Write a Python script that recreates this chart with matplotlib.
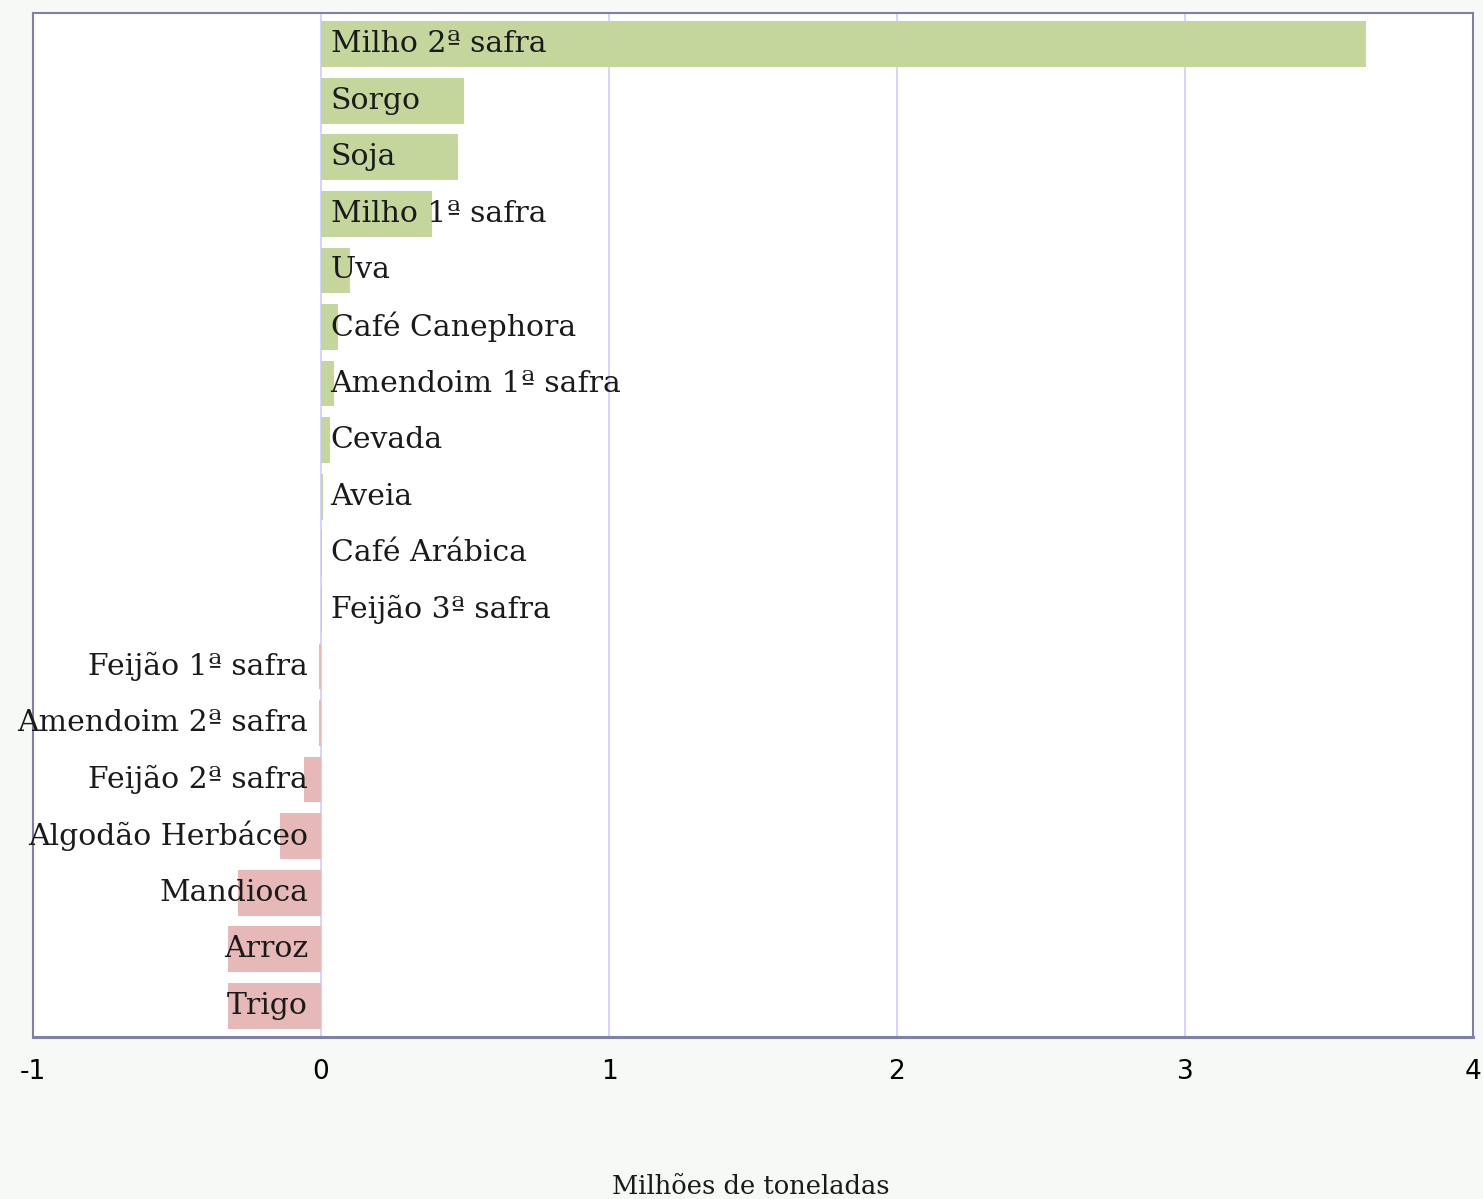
import matplotlib.pyplot as plt

crops = [
    "Milho 2ª safra", "Sorgo", "Soja", "Milho 1ª safra", "Uva",
    "Café Canephora", "Amendoim 1ª safra", "Cevada", "Aveia",
    "Café Arábica", "Feijão 3ª safra", "Feijão 1ª safra",
    "Amendoim 2ª safra", "Feijão 2ª safra", "Algodão Herbáceo",
    "Mandioca", "Arroz", "Trigo",
]
# variação em milhões de toneladas
values = [
    3.63, 0.497, 0.476, 0.385, 0.10,
    0.059, 0.045, 0.031, 0.007,
    0.004, 0.003, -0.007,
    -0.007, -0.059, -0.142,
    -0.288, -0.323, -0.322,
]
xticks = [-1, 0, 1, 2, 3, 4]

pos_color = "#c5d69c"
neg_color = "#e6b9b8"
serif = ["DejaVu Serif"]

fig = plt.figure(figsize=(14.83, 11.99), dpi=100, facecolor="#f7f9f7")
ax = fig.add_axes([33 / 1483, 1 - 1037 / 1199, 1440 / 1483, 1024 / 1199])
ax.set_facecolor("white")

y = list(range(len(crops)))
colors = [pos_color if v >= 0 else neg_color for v in values]
ax.barh(y, values, height=0.81, color=colors, zorder=2)

for yi, name, v in zip(y, crops, values):
    if v >= 0:
        ax.text(0.033, yi, name, ha="left", va="center", fontsize=21.5,
                family=serif, color="#1a1a1a", zorder=3)
    else:
        ax.text(-0.045, yi, name, ha="right", va="center", fontsize=21.5,
                family=serif, color="#1a1a1a", zorder=3, clip_on=False)

ax.set_xlim(-1, 4)
ax.set_ylim(len(crops) - 0.45, -0.55)
ax.set_yticks([])
ax.set_xticks(xticks)
ax.set_xticklabels([str(t) for t in xticks], family="DejaVu Sans", fontsize=19)
ax.tick_params(axis="x", length=0, pad=16)
ax.xaxis.grid(True, color="#ccccff", linewidth=1.2, zorder=1)
ax.set_axisbelow(True)

for side, sp in ax.spines.items():
    sp.set_color("#8080a8")
    sp.set_linewidth(1.5)
ax.spines["bottom"].set_linewidth(2.2)

fig.text(751 / 1483, 1 - 1186 / 1199, "Milhões de toneladas", family=serif,
         fontsize=18.5, ha="center", va="center", color="#1a1a1a")

fig.savefig("out.png", dpi=100, facecolor=fig.get_facecolor())
plt.close(fig)
